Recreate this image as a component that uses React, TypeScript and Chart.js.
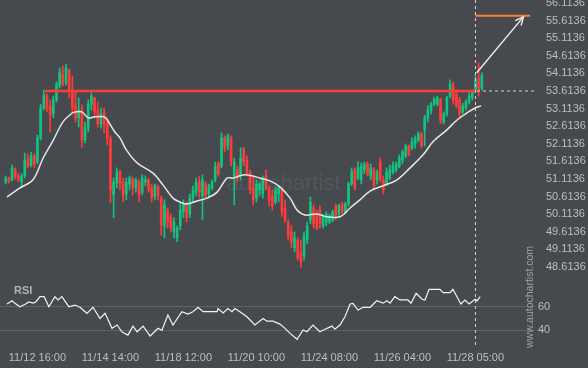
import { useEffect, useRef } from "react";
import { Chart, registerables } from "chart.js";
Chart.register(...registerables);

// ---- data ----
const timeLabels = ["11/12 16:00", "11/14 14:00", "11/18 12:00", "11/20 10:00", "11/24 08:00", "11/26 04:00", "11/28 05:00"];
const labelIndex = [10, 33, 56, 79, 102, 125, 148];
const priceTicks = [48.6136, 49.1136, 49.6136, 50.1136, 50.6136, 51.1136, 51.6136, 52.1136, 52.6136, 53.1136, 53.6136, 54.1136, 54.6136, 55.1136, 55.6136, 56.1136];
const rsiTicks = [40, 60];

const open = [
  51.03, 51.14, 51.09, 51.37, 51.20, 51.03, 51.20, 51.68, 51.51, 51.77,
  51.60, 52.28, 53.13, 53.47, 53.19, 52.96, 53.36, 53.76, 54.10, 53.87,
  54.21, 53.64, 53.19, 52.85, 53.07, 52.22, 52.56, 53.24, 53.42, 53.07,
  52.68, 53.02, 52.68, 52.28, 50.66, 51.00, 51.31, 51.03, 50.69, 50.97,
  51.09, 50.86, 51.03, 50.74, 51.03, 51.09, 50.86, 50.63, 50.89, 50.57,
  49.78, 50.23, 50.01, 49.61, 49.44, 49.78, 50.18, 50.40, 50.12, 50.57,
  50.74, 51.03, 50.63, 50.97, 50.69, 50.86, 51.09, 51.54, 51.48, 52.28,
  52.05, 52.28, 51.20, 51.37, 51.20, 51.94, 51.65, 51.31, 50.86, 50.57,
  50.80, 50.69, 51.20, 50.86, 50.63, 50.46, 50.69, 50.80, 50.29, 49.89,
  49.61, 49.16, 49.38, 49.04, 48.93, 49.38, 49.95, 50.29, 50.12, 50.23,
  49.78, 49.89, 49.89, 49.95, 50.35, 50.12, 50.40, 50.18, 50.40, 50.97,
  51.37, 51.14, 51.09, 51.37, 51.54, 51.20, 51.37, 51.09, 51.60, 51.09,
  50.97, 51.14, 51.31, 51.37, 51.48, 51.65, 51.77, 52.05, 52.00, 52.11,
  52.22, 52.39, 52.51, 52.85, 53.07, 53.24, 53.24, 53.36, 52.73, 52.96,
  53.47, 53.76, 53.53, 53.36, 53.02, 53.13, 53.30, 53.42, 53.64, 53.98,
  53.70,
];
const high = [
  51.20, 51.17, 51.51, 51.43, 51.28, 51.26, 51.85, 51.82, 51.88, 51.82,
  52.36, 53.24, 53.64, 53.53, 53.36, 53.47, 53.87, 54.27, 54.32, 54.38,
  54.24, 54.04, 53.59, 53.42, 53.22, 52.73, 53.36, 53.56, 53.44, 53.30,
  53.13, 53.13, 52.85, 52.34, 51.14, 51.43, 51.37, 51.14, 51.14, 51.20,
  51.17, 51.14, 51.09, 51.23, 51.20, 51.14, 50.97, 50.97, 50.94, 50.63,
  50.52, 50.29, 50.12, 50.01, 49.78, 50.46, 50.52, 50.46, 50.69, 50.92,
  51.14, 51.20, 51.23, 51.03, 50.97, 51.09, 51.60, 51.60, 52.42, 52.34,
  52.39, 52.34, 51.71, 51.48, 52.00, 52.02, 51.77, 51.37, 51.20, 51.09,
  51.03, 51.20, 51.37, 50.92, 50.80, 50.89, 50.92, 50.86, 50.52, 49.95,
  49.78, 49.61, 49.44, 49.38, 49.61, 49.89, 50.60, 50.38, 50.23, 50.35,
  50.12, 50.18, 50.12, 50.23, 50.40, 50.40, 50.46, 50.46, 51.03, 51.43,
  51.43, 51.60, 51.57, 51.60, 51.60, 51.54, 51.43, 51.37, 51.71, 51.20,
  51.43, 51.51, 51.60, 51.60, 51.80, 51.94, 52.11, 52.08, 52.28, 52.34,
  52.45, 52.45, 52.93, 53.19, 53.30, 53.44, 53.47, 53.42, 53.02, 53.47,
  53.93, 53.87, 53.64, 53.44, 53.27, 53.36, 53.59, 53.64, 54.07, 54.41,
  54.13,
];
const low = [
  50.97, 51.00, 51.06, 51.11, 51.03, 50.86, 51.14, 51.43, 51.46, 51.43,
  51.54, 52.22, 53.07, 53.02, 52.45, 52.85, 53.30, 53.70, 53.76, 53.78,
  53.42, 53.02, 52.73, 52.59, 52.02, 52.14, 52.45, 53.07, 52.85, 52.59,
  52.56, 52.42, 52.08, 50.43, 50.01, 50.86, 50.80, 50.46, 50.52, 50.80,
  50.66, 50.74, 50.46, 50.66, 50.92, 50.74, 50.46, 50.52, 50.52, 49.52,
  49.44, 49.72, 49.61, 49.44, 49.33, 49.67, 50.01, 49.89, 50.01, 50.46,
  50.63, 50.57, 49.95, 50.57, 50.57, 50.80, 51.03, 51.20, 51.43, 51.88,
  51.94, 51.48, 50.38, 51.03, 51.09, 51.48, 51.20, 50.69, 50.38, 50.46,
  50.63, 50.57, 50.80, 50.35, 50.23, 50.40, 50.46, 50.06, 49.89, 49.38,
  49.16, 49.04, 48.81, 48.61, 48.81, 49.27, 49.84, 49.72, 49.67, 49.72,
  49.72, 49.78, 49.84, 49.89, 49.95, 50.01, 50.12, 50.12, 50.35, 50.92,
  50.80, 51.09, 50.97, 51.26, 51.20, 51.09, 50.80, 50.97, 51.03, 50.69,
  50.92, 51.09, 51.26, 51.31, 51.43, 51.54, 51.71, 51.77, 51.94, 52.00,
  52.17, 52.00, 52.05, 52.73, 52.96, 53.19, 53.19, 52.68, 52.68, 52.90,
  53.42, 53.24, 53.13, 52.88, 52.96, 53.07, 53.24, 53.36, 53.59, 53.47,
  53.64,
];
const close = [
  51.14, 51.06, 51.43, 51.17, 51.09, 51.20, 51.65, 51.48, 51.77, 51.51,
  52.28, 53.13, 53.50, 53.13, 52.93, 53.36, 53.81, 54.15, 53.81, 54.27,
  53.59, 53.13, 52.85, 53.07, 52.22, 52.56, 53.24, 53.47, 53.02, 52.68,
  52.96, 52.65, 52.28, 50.80, 51.03, 51.31, 50.97, 50.63, 51.03, 51.14,
  50.86, 51.09, 50.66, 51.14, 51.09, 50.80, 50.57, 50.92, 50.63, 49.81,
  50.38, 49.89, 49.72, 49.89, 49.72, 50.23, 50.40, 50.01, 50.57, 50.80,
  51.03, 50.74, 51.09, 50.66, 50.92, 51.03, 51.48, 51.26, 52.28, 52.00,
  52.34, 51.60, 51.60, 51.14, 51.71, 51.60, 51.26, 50.80, 50.52, 50.97,
  50.97, 51.14, 50.86, 50.52, 50.35, 50.80, 50.86, 50.18, 49.95, 49.50,
  49.33, 49.44, 48.87, 48.76, 49.50, 49.78, 50.46, 49.84, 49.72, 49.84,
  50.06, 50.12, 50.06, 50.18, 50.06, 50.35, 50.18, 50.40, 50.97, 51.31,
  50.86, 51.43, 51.48, 51.54, 51.26, 51.43, 50.92, 51.31, 51.09, 50.80,
  51.31, 51.37, 51.48, 51.54, 51.71, 51.88, 52.05, 51.82, 52.17, 52.28,
  52.39, 52.05, 52.85, 53.07, 53.24, 53.39, 53.42, 52.79, 52.96, 53.42,
  53.81, 53.36, 53.19, 52.96, 53.19, 53.30, 53.47, 53.59, 53.93, 53.59,
  54.04,
];

const maIndex = [0.4, 4.5, 8.6, 11.8, 15, 18, 21, 22, 24, 26, 28, 31, 32, 34.4, 36, 38, 41.4, 46.4, 49.6, 52.7, 54.9, 57, 60.3, 63.4, 66.6, 69.7, 71.6, 74.8, 77.9, 80, 83.3, 86.4, 89.6, 91.8, 94.3, 98, 101.2, 105.3, 108.5, 111.6, 114.8, 118.9, 123.3, 127.4, 131.5, 134.6, 139, 142.2, 145.3, 147.9, 149.8];
const maValue = [50.60, 50.86, 51.09, 51.71, 52.22, 52.73, 52.99, 53.02, 53.02, 52.85, 52.88, 52.88, 52.79, 52.45, 52.28, 51.94, 51.57, 51.28, 50.94, 50.57, 50.46, 50.40, 50.49, 50.57, 50.74, 51.14, 51.14, 51.23, 51.20, 51.14, 51.06, 50.89, 50.57, 50.23, 50.09, 50.12, 50.04, 50.04, 50.29, 50.52, 50.77, 50.92, 51.09, 51.43, 51.80, 52.17, 52.51, 52.79, 52.99, 53.13, 53.19];

const rsiIndex = [0.4, 2, 2.9, 4.5, 6.1, 7.3, 8.6, 9.5, 10.8, 12.1, 13.6, 15.5, 16.5, 17.7, 19.9, 21.8, 23.4, 25.6, 27.5, 29.7, 31.3, 33.5, 35.1, 36.6, 38.5, 40.1, 41.4, 43.3, 45.5, 48, 49.2, 51.1, 52.7, 55.5, 57.4, 59, 60.6, 62.2, 66.6, 66.9, 68.5, 70, 71.3, 72.2, 73.8, 76, 78.5, 81.1, 82.3, 84.2, 86.4, 88, 89.6, 91.8, 93.7, 94.9, 96.8, 99, 100.6, 102.8, 103.7, 105.3, 106.9, 108.5, 109.4, 111, 112.6, 114.8, 116.9, 118.9, 120.1, 121.1, 122.6, 124.2, 126.7, 127.7, 129.3, 131.2, 132.1, 133.4, 136.8, 137.8, 140, 140.9, 143.4, 144.7, 146, 147.9, 148.5, 149.5];
const rsiValue = [62.3, 65, 63, 60, 62, 64, 63, 64, 68.5, 68.5, 60, 68.5, 65.7, 68.5, 60, 61.4, 59.5, 54.4, 59.5, 50, 54.4, 41.7, 44.5, 38.8, 36, 43.6, 38.8, 43.6, 35.2, 41.7, 40, 53, 44.5, 55.8, 53.8, 55.8, 59.5, 55.8, 55.8, 58.5, 54.7, 58.5, 55.8, 58.5, 55.8, 51.5, 44.5, 50, 47.8, 47.8, 45.3, 41.7, 37.4, 32.4, 40.3, 38.8, 44.5, 38.8, 40.9, 43.6, 40.9, 44.5, 51.5, 62.3, 62.8, 57.2, 59.5, 59.5, 65, 63, 65, 63, 68.5, 65.7, 65.7, 63, 71.3, 66.3, 65.7, 74.7, 74.7, 71.9, 71.9, 74.7, 62.3, 65.7, 62.3, 66.3, 65, 68.5];

const resistanceLevel = 53.6136;
const resistanceSpan = [12.4, 148];
const targetLevel = 55.753;
const targetSpan = [148, 165.2];
const arrowStart = [148.4, 54.13];
const arrowEnd = [163.1, 55.72];
const signalIndex = 148;
const dashedSpan = [148.5, 167.4];

// ---- styles ----
const BG = "#46494d";
const GREEN = "#12c47f";
const RED = "#ff3c3c";
const TEXT = "#bcbfc2";
const FONT = "'Liberation Sans', Arial, sans-serif";

export default function App() {
  const ref = useRef<HTMLCanvasElement>(null);
  useEffect(() => {
    const canvas = ref.current!;
    const idx = close.map((_, i) => i);
    const colors = idx.map((i) => (close[i] >= open[i] ? GREEN : RED));

    const deco = {
      id: "deco",
      beforeDatasetsDraw(chart: any) {
        const { ctx, chartArea } = chart;
        const ys = chart.scales.y;
        ctx.save();
        ctx.fillStyle = "rgba(255,255,255,0.07)";
        ctx.font = `22px ${FONT}`;
        ctx.textAlign = "center";
        ctx.textBaseline = "middle";
        ctx.fillText("autochartist", chartArea.left + chartArea.width * 0.53, ys.top + ys.height * 0.657);
        ctx.restore();
      },
      afterDraw(chart: any) {
        const { ctx, chartArea } = chart;
        const xs = chart.scales.x;
        const ys = chart.scales.y;
        const rs = chart.scales.rsi;
        ctx.save();
        const sx = Math.round(xs.getPixelForValue(signalIndex)) + 0.5;
        ctx.strokeStyle = "#d4d4d4";
        ctx.lineWidth = 1;
        ctx.setLineDash([3, 3]);
        ctx.beginPath();
        ctx.moveTo(sx, 0);
        ctx.lineTo(sx, chartArea.bottom + 3);
        ctx.stroke();
        ctx.setLineDash([]);
        const x1 = xs.getPixelForValue(arrowStart[0]);
        const y1 = ys.getPixelForValue(arrowStart[1]);
        const x2 = xs.getPixelForValue(arrowEnd[0]);
        const y2 = ys.getPixelForValue(arrowEnd[1]);
        const a = Math.atan2(y2 - y1, x2 - x1);
        const L = 9;
        ctx.strokeStyle = "#e8e8e8";
        ctx.lineWidth = 1.5;
        ctx.beginPath();
        ctx.moveTo(x2 - L * Math.cos(a - 0.45), y2 - L * Math.sin(a - 0.45));
        ctx.lineTo(x2, y2);
        ctx.lineTo(x2 - L * Math.cos(a + 0.45), y2 - L * Math.sin(a + 0.45));
        ctx.stroke();
        ctx.fillStyle = "#aeb1b4";
        ctx.font = `bold 11px ${FONT}`;
        ctx.textAlign = "left";
        ctx.textBaseline = "middle";
        ctx.fillText("RSI", 14, rs.top + 11);
        ctx.fillStyle = "#9fa2a5";
        ctx.font = `10.5px ${FONT}`;
        ctx.translate(530, 348);
        ctx.rotate(-Math.PI / 2);
        ctx.textAlign = "left";
        ctx.fillText("www.autochartist.com", 0, 0);
        ctx.restore();
      },
    };

    const noPadY = (s: any) => {
      s.width = 53;
      s.paddingTop = 0;
      s.paddingBottom = 0;
    };

    const chart = new Chart(canvas, {
      type: "bar",
      data: {
        datasets: [
          {
            type: "line",
            data: [{ x: resistanceSpan[0], y: resistanceLevel }, { x: resistanceSpan[1], y: resistanceLevel }],
            borderColor: "#ff3b3b",
            borderWidth: 2.5,
            pointRadius: 0,
            yAxisID: "y",
            order: 0,
          },
          {
            type: "line",
            data: [{ x: targetSpan[0], y: targetLevel }, { x: targetSpan[1], y: targetLevel }],
            borderColor: "#ff7f3a",
            borderWidth: 2,
            pointRadius: 0,
            yAxisID: "y",
            order: 0,
          },
          {
            type: "line",
            data: [{ x: arrowStart[0], y: arrowStart[1] }, { x: arrowEnd[0], y: arrowEnd[1] }],
            borderColor: "#e8e8e8",
            borderWidth: 1.5,
            pointRadius: 0,
            yAxisID: "y",
            order: 0,
          },
          {
            type: "line",
            data: [{ x: dashedSpan[0], y: resistanceLevel }, { x: dashedSpan[1], y: resistanceLevel }],
            borderColor: "#d4d4d4",
            borderWidth: 1,
            borderDash: [3, 3],
            pointRadius: 0,
            yAxisID: "y",
            clip: false,
            order: 0,
          },
          {
            type: "line",
            data: maIndex.map((x, k) => ({ x, y: maValue[k] })),
            borderColor: "#e6e6e6",
            borderWidth: 1.5,
            pointRadius: 0,
            tension: 0.35,
            yAxisID: "y",
            order: 1,
          },
          {
            type: "bar",
            data: idx.map((i) => ({ x: i, y: [open[i], close[i]] })),
            backgroundColor: colors,
            barThickness: 2,
            grouped: false,
            minBarLength: 1,
            yAxisID: "y",
            order: 2,
          },
          {
            type: "bar",
            data: idx.map((i) => ({ x: i, y: [low[i], high[i]] })),
            backgroundColor: colors,
            barThickness: 1,
            grouped: false,
            yAxisID: "y",
            order: 3,
          },
          {
            type: "line",
            data: rsiIndex.map((x, k) => ({ x, y: rsiValue[k] })),
            borderColor: "#f2f2f2",
            borderWidth: 1.2,
            pointRadius: 0,
            tension: 0,
            yAxisID: "rsi",
            order: 0,
          },
        ] as any,
      },
      options: {
        responsive: false,
        animation: false,
        events: [],
        layout: { padding: 0 },
        plugins: { legend: { display: false }, tooltip: { enabled: false } },
        scales: {
          x: {
            type: "linear",
            min: -1.796,
            max: 166.76,
            offset: false,
            grid: { display: false, drawTicks: false },
            border: { display: false },
            afterBuildTicks: (s: any) => {
              s.ticks = labelIndex.map((v) => ({ value: v }));
            },
            afterFit: (s: any) => {
              s.height = 23;
              s.paddingLeft = 0;
              s.paddingRight = 0;
            },
            ticks: {
              autoSkip: false,
              maxRotation: 0,
              padding: 6,
              color: TEXT,
              font: { size: 11, family: FONT },
              callback: (v: any) => {
                const k = labelIndex.indexOf(Number(v));
                return k >= 0 ? timeLabels[k] : "";
              },
            },
          },
          y: {
            type: "linear",
            position: "right",
            stack: "v",
            stackWeight: 280,
            min: 48.244,
            max: 56.199,
            grid: { display: false },
            border: { display: false },
            afterBuildTicks: (s: any) => {
              s.ticks = priceTicks.map((v) => ({ value: v }));
            },
            afterFit: noPadY,
            ticks: {
              autoSkip: false,
              padding: 3,
              color: TEXT,
              font: { size: 11, family: FONT },
              callback: (v: any) => Number(v).toFixed(4),
            },
          },
          rsi: {
            type: "linear",
            position: "right",
            stack: "v",
            stackWeight: 65,
            min: 27.6,
            max: 82.6,
            grid: { color: "#5f6266", drawTicks: false, lineWidth: 1 },
            border: { display: false },
            afterBuildTicks: (s: any) => {
              s.ticks = rsiTicks.map((v) => ({ value: v }));
            },
            afterFit: noPadY,
            ticks: {
              autoSkip: false,
              padding: 3,
              color: TEXT,
              font: { size: 11, family: FONT },
              callback: (v: any) => String(v),
            },
          },
        },
      } as any,
      plugins: [deco],
    });
    return () => chart.destroy();
  }, []);

  return (
    <div style={{ position: "fixed", left: 0, top: 0, width: 588, height: 368, background: BG }}>
      <canvas ref={ref} width={588} height={368} style={{ display: "block" }} />
    </div>
  );
}
